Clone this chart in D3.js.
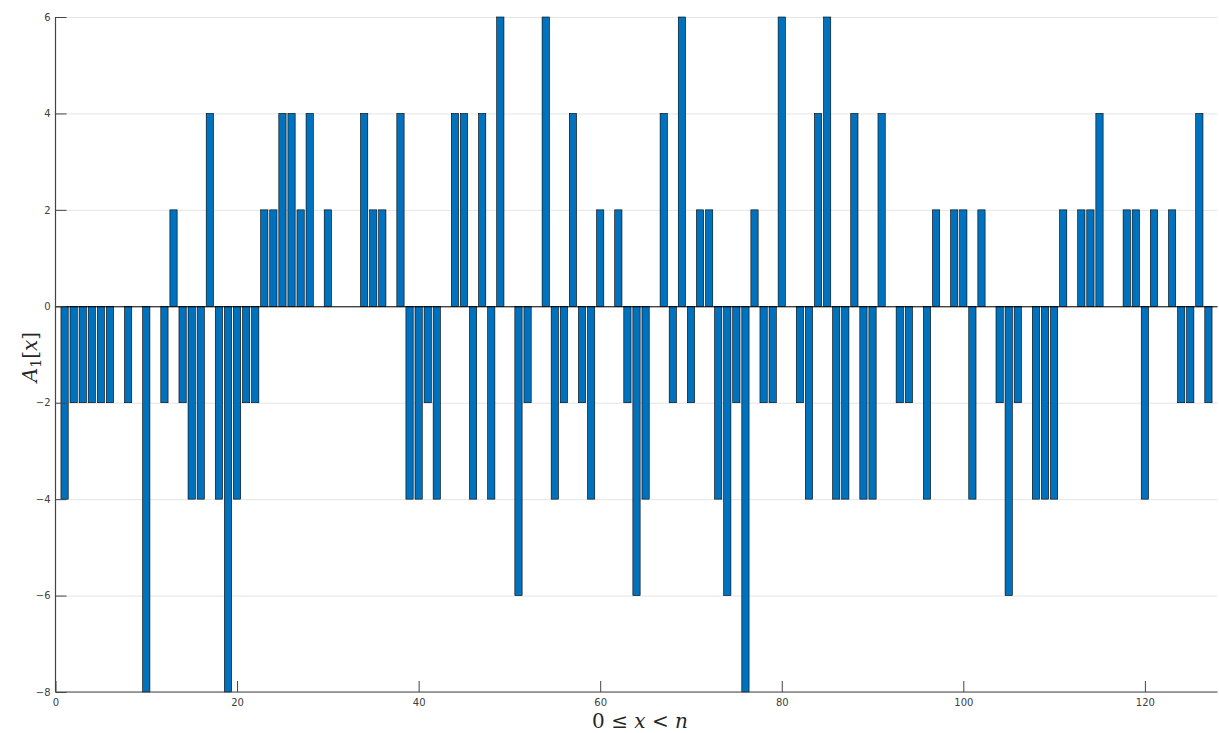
<!DOCTYPE html>
<html>
<head>
<meta charset="utf-8">
<script src="https://cdn.jsdelivr.net/npm/d3@7"></script>
<style>
html, body { margin: 0; padding: 0; background: #fff; }
svg { display: block; }
</style>
</head>
<body>
<svg id="chart" width="1219" height="733"></svg>
<script>
const values = [
  0, -4, -2, -2, -2, -2, -2, 0, -2, 0, -8, 0, -2, 2, -2, -4,
  -4, 4, -4, -8, -4, -2, -2, 2, 2, 4, 4, 2, 4, 0, 2, 0,
  0, 0, 4, 2, 2, 0, 4, -4, -4, -2, -4, 0, 4, 4, -4, 4,
  -4, 6, 0, -6, -2, 0, 6, -4, -2, 4, -2, -4, 2, 0, 2, -2,
  -6, -4, 0, 4, -2, 6, -2, 2, 2, -4, -6, -2, -8, 2, -2, -2,
  6, 0, -2, -4, 4, 6, -4, -4, 4, -4, -4, 4, 0, -2, -2, 0,
  -4, 2, 0, 2, 2, -4, 2, 0, -2, -6, -2, 0, -4, -4, -4, 2,
  0, 2, 2, 4, 0, 0, 2, 2, -4, 2, 0, 2, -2, -2, 4, -2
];
const xTicks = [0, 20, 40, 60, 80, 100, 120];
const yTicks = [-8, -6, -4, -2, 0, 2, 4, 6];
const xDomain = [0, 128];
const yDomain = [-8, 6];

const svg = d3.select("#chart");
const mLeft = 55.5, mRight = 1217.5, mTop = 17, mBottom = 692;

const x = d3.scaleLinear().domain(xDomain).range([mLeft, mRight]);
const y = d3.scaleLinear().domain(yDomain).range([mBottom, mTop]);

// horizontal gridlines
svg.append("g").selectAll("line").data(yTicks).join("line")
  .attr("x1", mLeft).attr("x2", mRight)
  .attr("y1", d => y(d) + 0.5).attr("y2", d => y(d) + 0.5)
  .attr("stroke", "#e5e5e5").attr("stroke-width", 1);

const data = values.map((v, i) => ({ i, v })).filter(d => d.v !== 0);
const bw = x(0.8) - x(0);

svg.append("g").selectAll("rect").data(data).join("rect")
  .attr("x", d => x(d.i) - bw / 2)
  .attr("width", bw)
  .attr("y", d => Math.min(y(d.v), y(0)))
  .attr("height", d => Math.abs(y(d.v) - y(0)))
  .attr("fill", "#0072BD")
  .attr("stroke", "#000")
  .attr("stroke-width", 0.6);

// zero baseline
svg.append("line")
  .attr("x1", mLeft).attr("x2", mRight)
  .attr("y1", y(0) + 0.5).attr("y2", y(0) + 0.5)
  .attr("stroke", "#000").attr("stroke-width", 1);

// axes (ticks inward)
const tickLen = 11;
const yAxis = d3.axisLeft(y).tickValues(yTicks).tickSize(-tickLen).tickFormat(d3.format("d"));
const gy = svg.append("g").attr("transform", `translate(${mLeft},0)`).call(yAxis);
const xAxis = d3.axisBottom(x).tickValues(xTicks).tickSize(-tickLen).tickFormat(d3.format("d"));
const gx = svg.append("g").attr("transform", `translate(0,${mBottom})`).call(xAxis);

[gx, gy].forEach(g => {
  g.select(".domain").attr("stroke", "#444").attr("stroke-width", 1.2);
  g.selectAll(".tick line").attr("stroke", "#444");
  g.selectAll(".tick text").attr("fill", "#404040")
    .style("font-family", "DejaVu Sans, sans-serif").style("font-size", "10px");
});
gy.select(".domain").attr("d", `M0,${mBottom}V${mTop}`);
gx.select(".domain").attr("d", `M${mLeft},0H${mRight}`);
gy.selectAll(".tick text").attr("x", -5);
gx.selectAll(".tick text").attr("y", 7);

// axis labels
const xl = svg.append("text")
  .attr("x", 640).attr("y", 728)
  .attr("text-anchor", "middle")
  .style("font-family", "'DejaVu Serif', 'Liberation Serif', serif")
  .style("font-size", "20px").attr("fill", "#262626");
xl.append("tspan").text("0 ≤ ");
xl.append("tspan").style("font-style", "italic").text("x");
xl.append("tspan").text(" < ");
xl.append("tspan").style("font-style", "italic").text("n");

const yl = svg.append("text")
  .attr("transform", "translate(37,357) rotate(-90)")
  .attr("text-anchor", "middle")
  .style("font-family", "'DejaVu Serif', 'Liberation Serif', serif")
  .style("font-size", "20px").attr("fill", "#262626");
yl.append("tspan").style("font-style", "italic").text("A");
yl.append("tspan").attr("dy", 4).style("font-size", "14px").text("1");
yl.append("tspan").attr("dy", -4).text("[");
yl.append("tspan").style("font-style", "italic").text("x");
yl.append("tspan").text("]");
</script>
</body>
</html>
